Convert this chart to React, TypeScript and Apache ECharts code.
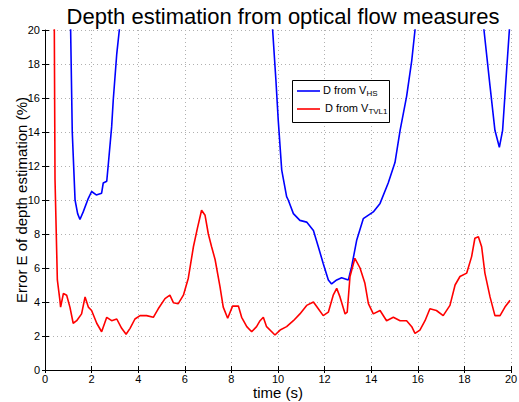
import React, { useEffect, useRef } from "react";
import * as echarts from "echarts";

const hsTime: (number)[] = [
  1.0, 1.1, 1.17, 1.29, 1.4, 1.5, 1.64, 1.86, 2.0, 2.2, 2.43, 2.5, 2.65, 2.72, 2.86, 2.93, 3.08, 3.19, 3.3,
  3.4,
  9.65, 9.77, 9.91, 10.01, 10.16, 10.37, 10.44, 10.66, 10.94, 11.23, 11.52, 11.73, 11.94, 12.16, 12.3, 12.52, 12.73, 13.02, 13.16, 13.38, 13.66, 14.09, 14.38, 14.73, 15.02, 15.24, 15.52, 15.74, 15.88, 16.0,
  16.1,
  18.7, 18.84, 19.1, 19.31, 19.5, 19.64, 19.81, 19.93, 20.0,
];
const hsValue: (number | null)[] = [
  26, 20, 14.0, 10.0, 9.2, 8.85, 9.3, 10.1, 10.5, 10.3, 10.4, 11.0, 11.1, 12.15, 14.3, 15.9, 18.6, 20, 22,
  null,
  24, 20, 17.06, 14.7, 11.76, 10.2, 10.0, 9.2, 8.8, 8.7, 8.2, 7.25, 6.27, 5.3, 5.06, 5.3, 5.43, 5.3, 6.08, 7.65, 8.9, 9.3, 9.8, 11.0, 12.2, 14.1, 16.1, 18.2, 20, 22,
  null,
  23, 20, 16.7, 14.1, 13.1, 14.1, 17.6, 20, 21.5,
];

const tvTime: number[] = [
  0.38, 0.4, 0.43, 0.53, 0.64, 0.67, 0.79, 0.93, 1.07, 1.21, 1.36, 1.57, 1.72, 1.86, 2.0, 2.22, 2.43, 2.65, 2.86, 3.08, 3.29, 3.48, 3.65, 3.86, 4.08, 4.36, 4.65, 4.86, 5.15, 5.36, 5.51, 5.72, 5.94, 6.15, 6.37, 6.54, 6.72, 6.87, 7.01, 7.15, 7.3, 7.51, 7.65, 7.84, 8.05, 8.3, 8.44, 8.66, 8.87, 9.08, 9.23, 9.37, 9.51, 9.87, 10.09, 10.37, 10.66, 10.94, 11.23, 11.52, 11.73, 11.94, 12.16, 12.37, 12.52, 12.66, 12.88, 12.97, 13.09, 13.3, 13.52, 13.73, 13.88, 14.09, 14.38, 14.66, 14.95, 15.24, 15.52, 15.74, 15.88, 16.09, 16.31, 16.52, 16.8, 17.09, 17.38, 17.6, 17.81, 18.1, 18.31, 18.45, 18.6, 18.74, 18.88, 19.1, 19.31, 19.53, 19.74, 19.96,
];
const tvValue: number[] = [
  22, 20, 11.2, 5.3, 4.1, 3.7, 4.5, 4.4, 3.7, 2.75, 2.9, 3.3, 4.3, 3.7, 3.5, 2.75, 2.25, 3.1, 2.9, 3.0, 2.45, 2.1, 2.45, 3.0, 3.2, 3.2, 3.1, 3.6, 4.2, 4.4, 3.96, 3.9, 4.4, 5.4, 7.25, 8.33, 9.4, 9.1, 8.0, 7.25, 6.5, 4.9, 3.7, 3.04, 3.76, 3.76, 3.1, 2.55, 2.25, 2.55, 2.9, 3.1, 2.55, 2.06, 2.35, 2.55, 2.9, 3.3, 3.8, 4.0, 3.6, 3.2, 3.4, 4.4, 4.8, 4.3, 3.3, 3.4, 5.5, 6.57, 6.0, 5.1, 3.9, 3.3, 3.5, 2.9, 3.1, 2.9, 2.9, 2.55, 2.15, 2.35, 2.9, 3.6, 3.5, 3.2, 3.8, 5.0, 5.5, 5.7, 6.67, 7.75, 7.84, 7.25, 5.7, 4.3, 3.2, 3.2, 3.7, 4.1,
];

const xTicks = [0, 2, 4, 6, 8, 10, 12, 14, 16, 18, 20];
const yTicks = [0, 2, 4, 6, 8, 10, 12, 14, 16, 18, 20];

const titleText = "Depth estimation from optical flow measures";
const xLabel = "time (s)";
const yLabel = "Error E of depth estimation (%)";

export default function App() {
  const ref = useRef<HTMLDivElement>(null);
  useEffect(() => {
    if (!ref.current) return;
    const chart = echarts.init(ref.current, undefined, { renderer: "svg" });
    const font = "'Liberation Sans', Arial, sans-serif";
    const hsData = hsTime.map((t, i) => [t, hsValue[i]]);
    const tvData = tvTime.map((t, i) => [t, tvValue[i]]);
    const grid = "#b0b0b0";
    chart.setOption({
      animation: false,
      backgroundColor: "#ffffff",
      title: {
        text: titleText,
        left: 278,
        textAlign: "center",
        top: 0,
        textStyle: { fontFamily: font, fontSize: 22, fontWeight: "normal", color: "#000" },
      },
      grid: { left: 45, right: 8, top: 30, bottom: 32, outerBoundsMode: "none", containLabel: false },
      xAxis: [
        {
          type: "value",
          min: xTicks[0],
          max: xTicks[xTicks.length - 1],
          interval: 2,
          name: xLabel,
          nameLocation: "middle",
          nameGap: 15,
          nameMoveOverlap: false,
          nameTextStyle: { fontFamily: font, fontSize: 15, color: "#000" },
          axisLine: { show: true, onZero: false, lineStyle: { color: "#000", width: 1 } },
          axisTick: { show: true, inside: true, length: 4, lineStyle: { color: "#000" } },
          axisLabel: { fontFamily: font, fontSize: 11, color: "#000", margin: 3 },
          splitLine: { show: true, lineStyle: { color: grid, type: [1, 3], width: 1 } },
        },
        {
          type: "value",
          position: "top",
          min: xTicks[0],
          max: xTicks[xTicks.length - 1],
          interval: 2,
          axisLine: { show: false },
          axisTick: { show: true, inside: true, length: 3, lineStyle: { color: "#000" } },
          axisLabel: { show: false },
          splitLine: { show: false },
        },
      ],
      yAxis: [
        {
          type: "value",
          min: yTicks[0],
          max: yTicks[yTicks.length - 1],
          interval: 2,
          name: yLabel,
          nameLocation: "middle",
          nameGap: 16,
          nameMoveOverlap: false,
          nameTextStyle: { fontFamily: font, fontSize: 15, color: "#000" },
          axisLine: { show: true, onZero: false, lineStyle: { color: "#000", width: 1 } },
          axisTick: { show: true, inside: true, length: 4, lineStyle: { color: "#000" } },
          axisLabel: { fontFamily: font, fontSize: 11, color: "#000", margin: 5 },
          splitLine: { show: true, lineStyle: { color: grid, type: [1, 3], width: 1 } },
        },
        {
          type: "value",
          position: "right",
          min: yTicks[0],
          max: yTicks[yTicks.length - 1],
          interval: 2,
          axisLine: { show: false },
          axisTick: { show: true, inside: true, length: 3, lineStyle: { color: "#000" } },
          axisLabel: { show: false },
          splitLine: { show: false },
        },
      ],
      series: [
        {
          name: "HS",
          type: "line",
          data: hsData,
          showSymbol: false,
          connectNulls: false,
          clip: true,
          lineStyle: { color: "#0000ff", width: 1.6 },
          itemStyle: { color: "#0000ff" },
        },
        {
          name: "TVL1",
          type: "line",
          data: tvData,
          showSymbol: false,
          clip: true,
          lineStyle: { color: "#ff0000", width: 1.6 },
          itemStyle: { color: "#ff0000" },
        },
      ],
      graphic: [
        {
          type: "rect",
          shape: { x: 292.5, y: 80.5, width: 97, height: 42 },
          style: { fill: "#fff", stroke: "#000", lineWidth: 1 },
          z: 100,
        },
        {
          type: "line",
          shape: { x1: 297, y1: 91, x2: 320, y2: 91 },
          style: { stroke: "#0000ff", lineWidth: 1.6 },
          z: 101,
        },
        {
          type: "line",
          shape: { x1: 297, y1: 109, x2: 320, y2: 109 },
          style: { stroke: "#ff0000", lineWidth: 1.6 },
          z: 101,
        },
        {
          type: "text",
          x: 323,
          y: 84,
          z: 101,
          style: {
            text: "{a|D from V}{b|HS}",
            rich: {
              a: { fontFamily: font, fontSize: 11, fill: "#000", lineHeight: 12 },
              b: { fontFamily: font, fontSize: 8, fill: "#000", padding: [6, 0, 0, 0], lineHeight: 12 },
            },
          },
        },
        {
          type: "text",
          x: 325,
          y: 102,
          z: 101,
          style: {
            text: "{a|D from V}{b|TVL1}",
            rich: {
              a: { fontFamily: font, fontSize: 11, fill: "#000", lineHeight: 12 },
              b: { fontFamily: font, fontSize: 8, fill: "#000", padding: [6, 0, 0, 0], lineHeight: 12 },
            },
          },
        },
      ],
    });
    return () => chart.dispose();
  }, []);
  return <div ref={ref} style={{ width: 519, height: 402, position: "absolute", left: 0, top: 0 }} />;
}
